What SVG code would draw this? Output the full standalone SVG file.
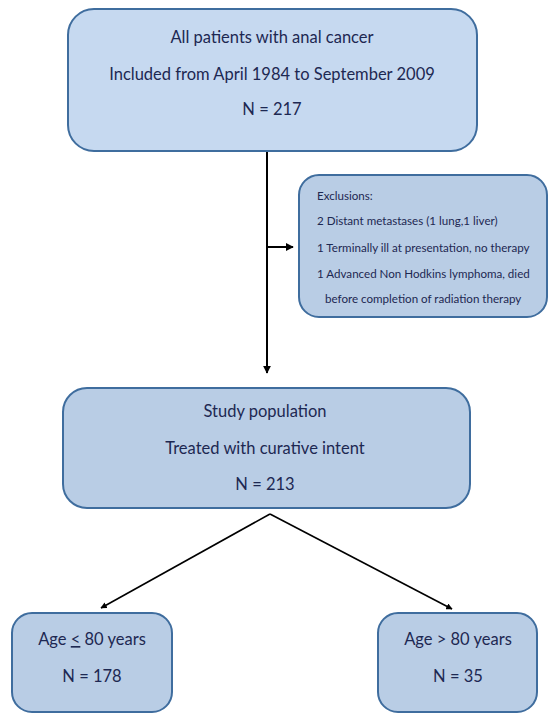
<svg xmlns="http://www.w3.org/2000/svg" width="550" height="714" viewBox="0 0 550 714">
<style>
.box{fill:#b9cde5;stroke:#3f6d9e;stroke-width:2}
.light{fill:#c6d9f0}
text{font-family:Lato,"Open Sans","Liberation Sans",sans-serif;fill:#1d2852;text-anchor:middle}
.m{font-size:16.5px}
.s{font-size:11.6px;text-anchor:start}
.c{stroke:#000;stroke-width:2;fill:none}
.d{stroke:#000;stroke-width:1.6;fill:none}
</style>
<defs>
<marker id="ah" viewBox="0 0 10 10" refX="9" refY="5" markerWidth="4" markerHeight="4" orient="auto" markerUnits="strokeWidth">
<path d="M0,0 L10,5 L0,10 z" fill="#000"/>
</marker>
</defs>
<rect width="550" height="714" fill="#fff"/>
<g id="connectors">
<line class="c" x1="267" y1="151" x2="267" y2="373" marker-end="url(#ah)"/>
<line class="c" x1="267" y1="247" x2="293" y2="247" marker-end="url(#ah)"/>
<line class="d" x1="270" y1="514" x2="101" y2="608" marker-end="url(#ah)"/>
<line class="d" x1="270" y1="514" x2="452" y2="609" marker-end="url(#ah)"/>
</g>
<g id="all-patients">
<rect class="box light" x="68" y="9" width="409" height="142" rx="26"/>
<text class="m" x="272" y="43">All patients with anal cancer</text>
<text class="m" x="272" y="80">Included from April 1984 to September 2009</text>
<text class="m" x="272" y="115">N = 217</text>
</g>
<g id="exclusions">
<rect class="box" x="299" y="175" width="248" height="142" rx="20"/>
<text class="s" x="317" y="200">Exclusions:</text>
<text class="s" x="317" y="225">2 Distant metastases (1 lung,1 liver)</text>
<text class="s" x="317" y="252">1 Terminally ill at presentation, no therapy</text>
<text class="s" x="317" y="278">1 Advanced Non Hodkins lymphoma, died</text>
<text class="s" x="325" y="303">before completion of radiation therapy</text>
</g>
<g id="study-population">
<rect class="box" x="63" y="388" width="407" height="120" rx="24"/>
<text class="m" x="265" y="417">Study population</text>
<text class="m" x="265" y="454">Treated with curative intent</text>
<text class="m" x="265" y="490">N = 213</text>
</g>
<g id="age-le-80">
<rect class="box" x="12" y="613" width="160" height="99" rx="20"/>
<text class="m" x="92" y="645">Age <tspan text-decoration="underline">&lt;</tspan> 80 years</text>
<text class="m" x="92" y="682">N = 178</text>
</g>
<g id="age-gt-80">
<rect class="box" x="378" y="613" width="159" height="99" rx="20"/>
<text class="m" x="458" y="645">Age &gt; 80 years</text>
<text class="m" x="458" y="682">N = 35</text>
</g>
</svg>
